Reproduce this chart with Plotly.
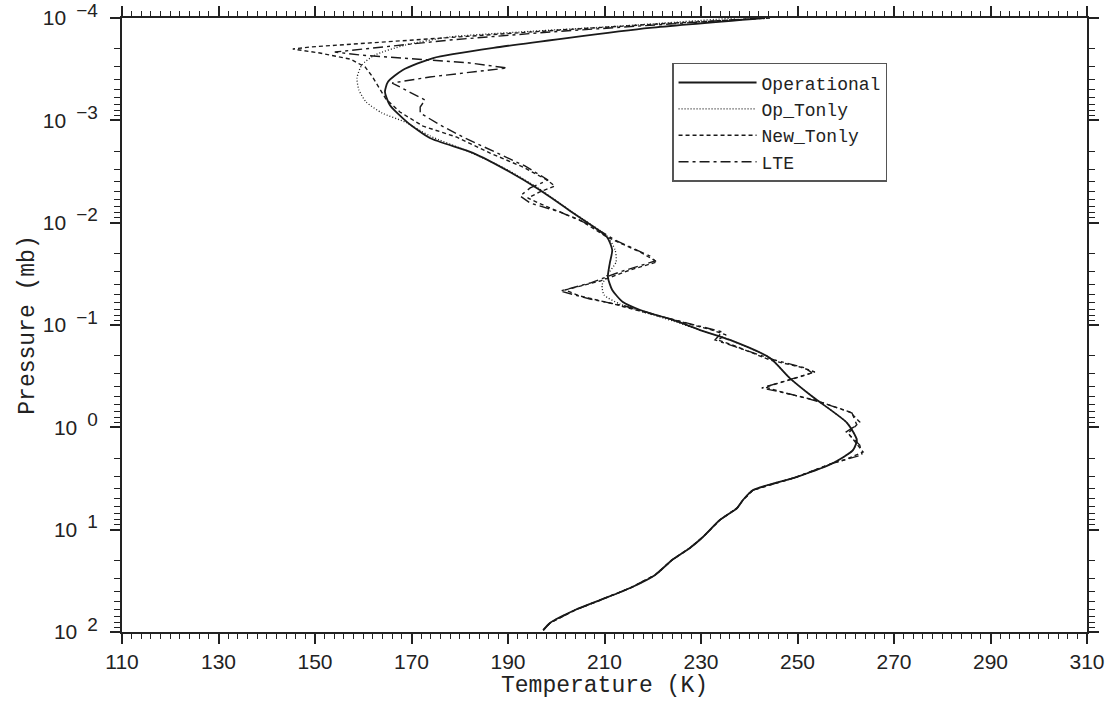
import plotly.graph_objects as go

# ---- data (temperature in K, pressure in mb) ----
# common lower-atmosphere part shared by all runs
lower_p = [2.23, 3.05, 4.10, 5.13, 6.14, 8.05, 11.8, 15.1, 19.8, 27.7, 37.2, 48.8, 61.0, 81.7, 96.0]
lower_T = [257.4, 249.9, 240.8, 238.7, 237.5, 233.9, 230.4, 227.7, 224.0, 220.5, 215.3, 209.1, 203.9, 198.7, 197.3]

op_p = [1.0e-4, 1.25e-4, 1.57e-4, 1.92e-4, 2.46e-4, 3.22e-4, 4.22e-4, 5.28e-4, 7.08e-4, 1.04e-3,
        1.49e-3, 2.08e-3, 3.20e-3, 4.80e-3, 8.05e-3, 1.38e-2, 1.85e-2, 2.48e-2, 3.40e-2, 4.55e-2,
        5.96e-2, 7.13e-2, 8.93e-2, 0.112, 0.140, 0.210, 0.330, 0.506, 0.908, 1.33, 1.67]
op_T = [243.3, 219.4, 202.2, 188.3, 174.5, 168.2, 165.1, 164.5, 165.5, 169.1,
        173.8, 182.7, 190.4, 196.6, 203.5, 210.5, 211.6, 211.1, 210.7, 211.6,
        213.8, 217.4, 224.2, 229.8, 236.0, 244.3, 248.4, 253.2, 260.3, 262.3, 261.5]

opt_p = [1.0e-4, 1.20e-4, 1.37e-4, 1.53e-4, 1.84e-4, 2.30e-4, 2.88e-4, 3.86e-4, 5.05e-4, 6.62e-4,
         8.48e-4, 1.04e-3, 1.42e-3, 2.04e-3, 3.06e-3, 4.58e-3, 7.87e-3, 1.35e-2, 1.85e-2, 2.42e-2,
         3.18e-2, 4.07e-2, 5.09e-2, 6.24e-2, 7.30e-2, 9.14e-2, 0.112, 0.140, 0.210, 0.330,
         0.506, 0.908, 1.33, 1.67]
opt_T = [237.0, 213.2, 192.5, 178.0, 168.7, 162.4, 159.7, 158.7, 159.1, 160.6,
         163.9, 168.7, 173.8, 182.1, 190.0, 196.2, 203.3, 210.5, 212.2, 212.4,
         210.7, 209.5, 209.9, 213.2, 217.4, 224.2, 229.8, 236.0, 244.3, 248.4,
         253.2, 260.3, 262.3, 261.5]

nt_p = [1.0e-4, 1.14e-4, 1.31e-4, 1.53e-4, 1.75e-4, 1.92e-4, 2.01e-4, 2.20e-4, 2.52e-4, 3.01e-4,
        3.69e-4, 4.72e-4, 6.19e-4, 8.29e-4, 1.14e-3, 1.46e-3, 2.09e-3, 2.86e-3, 3.83e-3, 4.38e-3,
        5.01e-3, 5.74e-3, 6.87e-3, 9.42e-3, 1.38e-2, 1.94e-2, 2.42e-2, 2.90e-2, 3.72e-2, 4.55e-2,
        5.21e-2, 6.10e-2, 7.30e-2, 9.35e-2, 0.112, 0.125, 0.140, 0.160, 0.220, 0.257,
        0.288, 0.344, 0.404, 0.462, 0.541, 0.708, 0.887, 1.14, 1.39, 1.74, 2.08]
nt_T = [244.3, 221.5, 200.8, 180.1, 161.4, 149.0, 145.4, 151.0, 157.3, 160.4,
        161.8, 163.1, 164.7, 167.6, 172.4, 179.4, 186.3, 193.1, 198.1, 199.7,
        196.6, 194.1, 197.7, 204.9, 210.5, 217.4, 220.9, 215.3, 209.1, 201.8,
        204.9, 211.1, 217.4, 225.6, 232.3, 235.2, 233.5, 237.0, 244.3, 250.5,
        253.6, 248.4, 243.3, 247.4, 253.6, 260.9, 262.9, 260.5, 261.9, 263.6, 259.8]

lte_p = [1.0e-4, 1.17e-4, 1.37e-4, 1.64e-4, 1.92e-4, 2.15e-4, 2.30e-4, 2.52e-4, 2.75e-4, 3.08e-4,
         3.37e-4, 3.77e-4, 4.32e-4, 5.05e-4, 6.33e-4, 7.41e-4, 8.48e-4, 1.11e-3, 1.49e-3, 2.04e-3,
         2.79e-3, 3.83e-3, 4.58e-3, 5.48e-3, 6.43e-3, 7.87e-3, 1.05e-2, 1.48e-2, 2.12e-2, 2.37e-2,
         3.03e-2, 3.89e-2, 4.66e-2, 5.57e-2, 6.52e-2, 8.17e-2, 0.102, 0.117, 0.140, 0.168,
         0.220, 0.263, 0.294, 0.352, 0.413, 0.472, 0.565, 0.724, 0.949, 1.11, 1.49, 1.86, 2.08]
lte_T = [242.2, 219.4, 198.7, 178.0, 163.5, 154.1, 159.3, 171.8, 182.1, 189.8,
         182.1, 173.8, 166.0, 168.7, 172.8, 171.8, 171.8, 175.9, 181.1, 187.3,
         193.5, 198.3, 194.6, 192.5, 194.6, 200.8, 207.0, 212.2, 219.4, 220.5,
         213.2, 207.0, 200.8, 207.0, 214.2, 221.5, 229.8, 234.4, 232.9, 238.1,
         245.3, 251.6, 253.0, 247.4, 242.6, 248.4, 254.7, 261.3, 262.3, 260.1,
         262.9, 263.4, 259.8]

series_names = ["Operational", "Op_Tonly", "New_Tonly", "LTE"]
x_ticks = list(range(110, 311, 20))
y_decades = [-4, -3, -2, -1, 0, 1, 2]

# ---- figure ----
styles = {
    "Operational": dict(dash="solid", width=1.8, shape="spline"),
    "Op_Tonly": dict(dash="1px,2px", width=1.3, shape="spline"),
    "New_Tonly": dict(dash="4px,3px", width=1.4, shape="linear"),
    "LTE": dict(dash="10px,4px,3px,4px", width=1.4, shape="linear"),
}
data = {
    "Operational": (op_T, op_p),
    "Op_Tonly": (opt_T, opt_p),
    "New_Tonly": (nt_T, nt_p),
    "LTE": (lte_T, lte_p),
}

fig = go.Figure()
for name in series_names:
    T, p = data[name]
    assert len(T) == len(p)
    st = styles[name]
    fig.add_trace(go.Scatter(
        x=list(T) + lower_T, y=list(p) + lower_p, mode="lines", name=name,
        line=dict(color="#1a1a1a", width=st["width"], dash=st["dash"], shape=st["shape"],
                  smoothing=0.6),
    ))

tick_font = dict(family="Liberation Sans", size=21, color="#222")
title_font = dict(family="Liberation Mono", size=23, color="#222")
minor_y = [k * 10.0 ** e for e in y_decades[:-1] for k in range(2, 10)]


def exp_label(e):
    s = ("\u2212%d" % -e) if e < 0 else str(e)
    return '10\u00a0<sup>\u00a0<span style="font-size:19px">%s</span></sup>' % s


fig.update_layout(
    width=1115, height=706,
    margin=dict(l=122, r=28, t=18, b=74),
    paper_bgcolor="white", plot_bgcolor="white",
    showlegend=True,
    legend=dict(
        x=0.57, y=0.927, xanchor="left", yanchor="top",
        bordercolor="#555", borderwidth=1.5, bgcolor="white",
        font=dict(family="Liberation Mono", size=18, color="#222"),
        itemwidth=78, tracegroupgap=0,
    ),
)
fig.update_xaxes(
    range=[110, 310], showgrid=False, zeroline=False, automargin="bottom",
    showline=True, linecolor="#222", linewidth=2, mirror="allticks",
    ticks="outside", ticklen=10, tickwidth=1.5, tickcolor="#222",
    tickvals=x_ticks, ticktext=[str(v) for v in x_ticks], tickfont=tick_font,
    ticklabeloverflow="allow",
    minor=dict(ticks="outside", dtick=2, ticklen=5, tickwidth=1.3, tickcolor="#222", showgrid=False),
    title=dict(text="Temperature (K)", font=title_font, standoff=4),
)
fig.update_yaxes(
    type="log", range=[2, -4], showgrid=False, zeroline=False, automargin="left",
    showline=True, linecolor="#222", linewidth=2, mirror="allticks",
    ticks="outside", ticklen=10, tickwidth=1.5, tickcolor="#222",
    tickvals=[10.0 ** e for e in y_decades],
    ticktext=[exp_label(e) for e in y_decades],
    tickfont=tick_font, ticklabeloverflow="allow", ticklabelstandoff=8,
    minor=dict(ticks="outside", tickvals=minor_y, ticklen=6, tickwidth=1.3, tickcolor="#222", showgrid=False),
    title=dict(text="Pressure (mb)", font=title_font, standoff=2),
)

fig.write_html("out.html")
